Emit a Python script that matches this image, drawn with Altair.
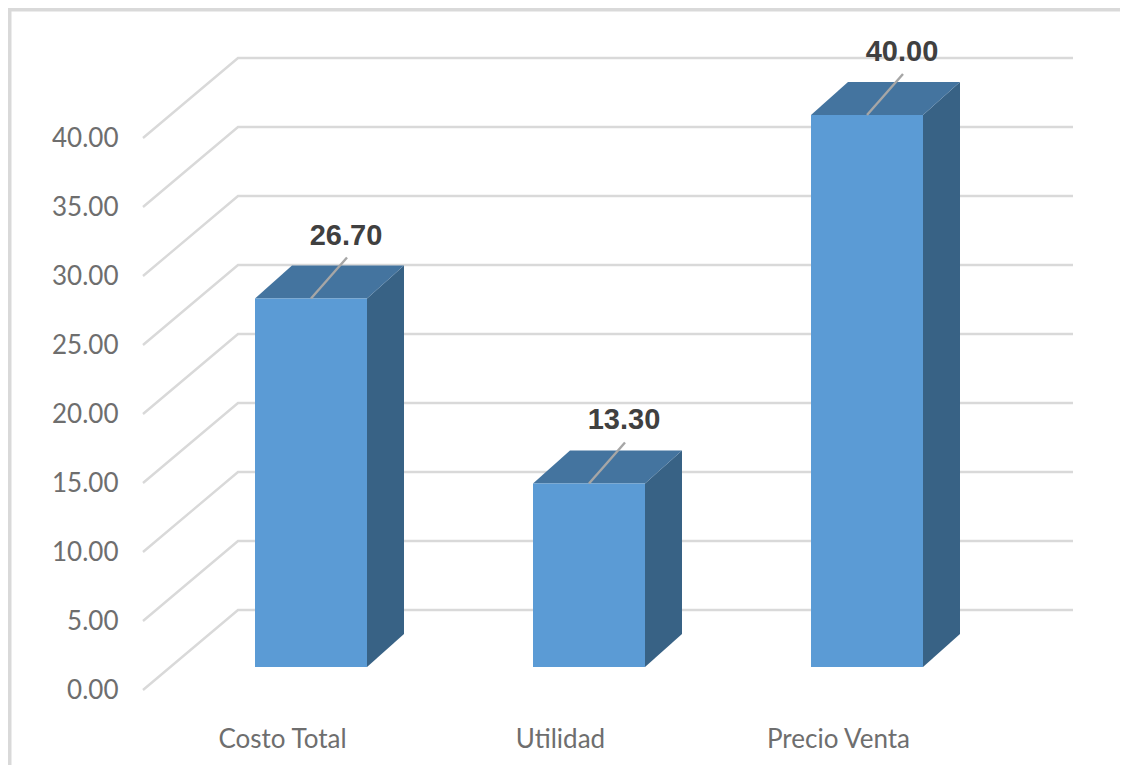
import altair as alt
import pandas as pd

categories = ["Costo Total", "Utilidad", "Precio Venta"]
values = [26.70, 13.30, 40.00]
y_ticks = [0, 5, 10, 15, 20, 25, 30, 35, 40]

W, H = 1112, 757
PX_SLOT = 278.0
PX_UNIT = 13.8
X0_PX, Y0_PX = 282 - 8, 690 - 8  # category 0 label centre / zero on the front plane


def xv(px):
    return px / PX_SLOT


def yv(px):
    return px / PX_UNIT


x_dom = [-X0_PX / PX_SLOT, (W - X0_PX) / PX_SLOT]
y_dom = [(Y0_PX - H) / PX_UNIT, Y0_PX / PX_UNIT]
xs = alt.Scale(domain=x_dom, nice=False, zero=False)
ys = alt.Scale(domain=y_dom, nice=False, zero=False)

wall_l, wall_depth_x, wall_depth_y, wall_end = xv(143 - 282), xv(95), yv(80), xv(1073 - 282)
bar_off, bar_w, bar_dx, bar_dy, base = xv(255 - 282), xv(112), xv(37), yv(33), yv(23)
lead_dx, lead_dy, text_dx, text_dy = xv(36), yv(41), xv(35), yv(63)
border_x, border_y = x_dom[0] + xv(1.5), y_dom[1] - yv(1.5)

grid, side, top, front, lead, labels = [], [], [], [], [], []
for t in y_ticks:
    grid += [
        dict(k=t, x=wall_l, y=t),
        dict(k=t, x=wall_l + wall_depth_x, y=t + wall_depth_y),
        dict(k=t, x=wall_end, y=t + wall_depth_y),
    ]
for i, (c, v) in enumerate(zip(categories, values)):
    L = i + bar_off
    R = L + bar_w
    T = base + v
    front.append(dict(c=c, x=L, x2=R, y=base, y2=T))
    side += [
        dict(c=c, x=R, y=base, y2=T),
        dict(c=c, x=R + bar_dx, y=base + bar_dy, y2=T + bar_dy),
    ]
    top += [
        dict(c=c, x=L, y=T, y2=T),
        dict(c=c, x=L + bar_dx, y=T, y2=T + bar_dy),
        dict(c=c, x=R, y=T, y2=T + bar_dy),
        dict(c=c, x=R + bar_dx, y=T + bar_dy, y2=T + bar_dy),
    ]
    mid = (L + R) / 2
    lead += [dict(c=c, x=mid, y=T), dict(c=c, x=mid + lead_dx, y=T + lead_dy)]
    labels.append(dict(x=mid + text_dx, y=T + text_dy, t=f"{v:.2f}"))

FONT = "Lato"
X = alt.X("x:Q", scale=xs, title=None,
          axis=alt.Axis(values=[0, 1, 2], labelExpr="['Costo Total','Utilidad','Precio Venta'][datum.value]",
                        grid=False, domain=False, ticks=False, offset=-26, labelPadding=0, orient="bottom",
                        labelFont=FONT, labelFontSize=26, labelColor="#6e6e6e", labelBaseline="middle"))
Y = alt.Y("y:Q", scale=ys, title=None,
          axis=alt.Axis(values=y_ticks, format=".2f", grid=False, domain=False, ticks=False,
                        offset=-135, labelPadding=25, orient="left",
                        labelFont=FONT, labelFontSize=26, labelColor="#6e6e6e"))

border_top = alt.Chart(pd.DataFrame([dict(x=x_dom[0], x2=x_dom[1], y=border_y)])).mark_rule(
    color="#d9d9d9", strokeWidth=4).encode(x=X, x2="x2:Q", y=Y)
border_left = alt.Chart(pd.DataFrame([dict(x=border_x, y=y_dom[0], y2=y_dom[1])])).mark_rule(
    color="#d9d9d9", strokeWidth=4).encode(x=X, y=Y, y2="y2:Q")
grid_l = alt.Chart(pd.DataFrame(grid)).mark_line(color="#d9d9d9", strokeWidth=2.4).encode(
    x=X, y=Y, detail="k:N", order=alt.Order("x:Q"))
side_l = alt.Chart(pd.DataFrame(side)).mark_area(color="#386285").encode(x=X, y=Y, y2="y2:Q", detail="c:N")
top_l = alt.Chart(pd.DataFrame(top)).mark_area(color="#44749F").encode(x=X, y=Y, y2="y2:Q", detail="c:N")
front_l = alt.Chart(pd.DataFrame(front)).mark_rect(color="#5B9BD5").encode(x=X, x2="x2:Q", y=Y, y2="y2:Q")
lead_l = alt.Chart(pd.DataFrame(lead)).mark_line(color="#a6a6a6", strokeWidth=2.4).encode(
    x=X, y=Y, detail="c:N", order=alt.Order("x:Q"))
label_l = alt.Chart(pd.DataFrame(labels)).mark_text(
    font="Liberation Sans", fontSize=29, fontWeight="bold", color="#404040").encode(x=X, y=Y, text="t:N")

chart = alt.layer(border_top, border_left, grid_l, side_l, top_l, front_l, lead_l, label_l).properties(
    width=W, height=H, padding=0, autosize=alt.AutoSizeParams(type="none"), background="white"
).configure_view(stroke=None)

chart.save("out.html", embed_options={"renderer": "svg", "actions": False})
